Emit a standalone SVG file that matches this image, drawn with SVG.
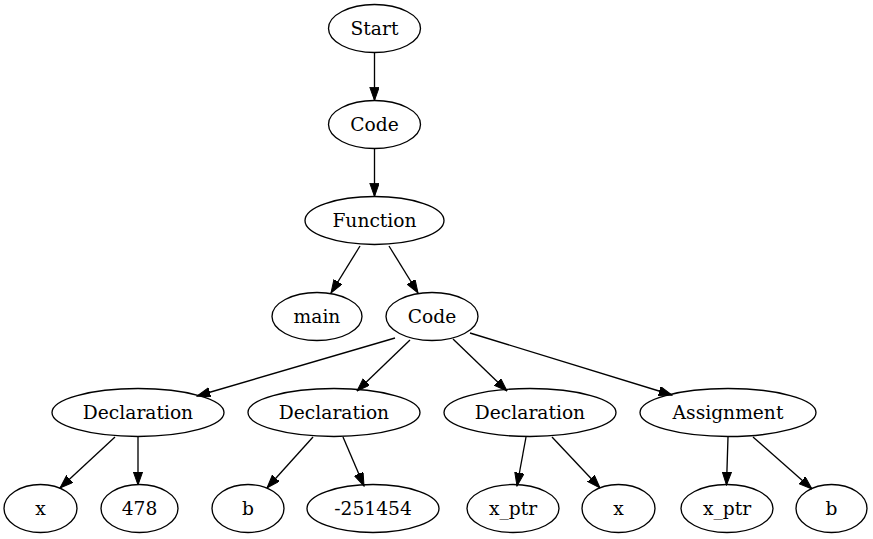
<svg xmlns="http://www.w3.org/2000/svg" width="873" height="539" viewBox="0 0 873 539">
<defs>
<style>
ellipse{fill:none;stroke:#000;stroke-width:1.33}
text{font-family:"DejaVu Serif","Liberation Serif",serif;font-size:18.67px;text-anchor:middle;fill:#000}
.e line{stroke:#000;stroke-width:1.33;marker-end:url(#ah)}
</style>
<marker id="ah" markerUnits="userSpaceOnUse" markerWidth="14" markerHeight="10" refX="13.3" refY="4.7" orient="auto">
<path d="M0,0 L13.3,4.7 L0,9.4 Z" fill="#000" stroke="#000" stroke-width="1"/>
</marker>
</defs>
<rect width="873" height="539" fill="#fff"/>
<g class="e" id="edges">
<line x1="374.5" y1="52.5" x2="374.5" y2="100.5"/>
<line x1="374.5" y1="148.5" x2="374.5" y2="196.5"/>
<line x1="360" y1="246" x2="331" y2="293"/>
<line x1="389" y1="246" x2="418" y2="293"/>
<line x1="395" y1="338" x2="197" y2="396"/>
<line x1="410" y1="340" x2="357" y2="391"/>
<line x1="453" y1="339" x2="507" y2="391"/>
<line x1="470" y1="333" x2="672" y2="395"/>
<line x1="115" y1="437" x2="60" y2="488"/>
<line x1="138" y1="437" x2="138" y2="485"/>
<line x1="313" y1="437" x2="267" y2="488"/>
<line x1="343" y1="437" x2="364" y2="486"/>
<line x1="526" y1="437" x2="517" y2="486"/>
<line x1="552" y1="437" x2="600" y2="488"/>
<line x1="728" y1="437" x2="726.5" y2="485"/>
<line x1="753" y1="437" x2="812" y2="489"/>
</g>
<g id="n_start"><ellipse cx="374.5" cy="28.5" rx="46" ry="24"/><text x="374.5" y="34.5">Start</text></g>
<g id="n_code1"><ellipse cx="374.5" cy="124.5" rx="46" ry="24"/><text x="374.5" y="130.5">Code</text></g>
<g id="n_function"><ellipse cx="374.5" cy="220.5" rx="69.5" ry="24"/><text x="374.5" y="226.5">Function</text></g>
<g id="n_main"><ellipse cx="317" cy="316.5" rx="45" ry="24"/><text x="317" y="322.5">main</text></g>
<g id="n_code2"><ellipse cx="432" cy="316.5" rx="46" ry="24"/><text x="432" y="322.5">Code</text></g>
<g id="n_decl1"><ellipse cx="138" cy="412.5" rx="86" ry="24"/><text x="138" y="418.5">Declaration</text></g>
<g id="n_decl2"><ellipse cx="334" cy="412.5" rx="86" ry="24"/><text x="334" y="418.5">Declaration</text></g>
<g id="n_decl3"><ellipse cx="530" cy="412.5" rx="86" ry="24"/><text x="530" y="418.5">Declaration</text></g>
<g id="n_assign"><ellipse cx="728" cy="412.5" rx="88" ry="24"/><text x="728" y="418.5">Assignment</text></g>
<g id="n_x1"><ellipse cx="40.5" cy="508.5" rx="36.5" ry="24"/><text x="40.5" y="514.5">x</text></g>
<g id="n_478"><ellipse cx="139.5" cy="508.5" rx="38.5" ry="24"/><text x="139.5" y="514.5">478</text></g>
<g id="n_b1"><ellipse cx="248" cy="508.5" rx="36" ry="24"/><text x="248" y="514.5">b</text></g>
<g id="n_num"><ellipse cx="373" cy="508.5" rx="66" ry="24"/><text x="373" y="514.5">-251454</text></g>
<g id="n_xptr1"><ellipse cx="513" cy="508.5" rx="46" ry="24"/><text x="513" y="514.5">x_ptr</text></g>
<g id="n_x2"><ellipse cx="618.5" cy="508.5" rx="36.5" ry="24"/><text x="618.5" y="514.5">x</text></g>
<g id="n_xptr2"><ellipse cx="727" cy="508.5" rx="46" ry="24"/><text x="727" y="514.5">x_ptr</text></g>
<g id="n_b2"><ellipse cx="831.5" cy="508.5" rx="35.5" ry="24"/><text x="831.5" y="514.5">b</text></g>
</svg>
